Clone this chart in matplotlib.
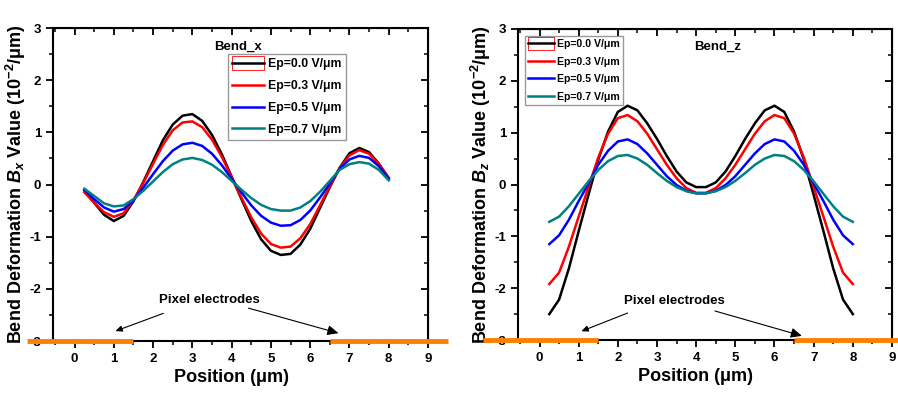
import matplotlib
matplotlib.use("Agg")
import matplotlib.pyplot as plt
from matplotlib.patches import Rectangle
from matplotlib.legend_handler import HandlerTuple, HandlerPatch
from matplotlib.ticker import MultipleLocator

plt.rcParams["font.family"] = ["Liberation Sans", "DejaVu Sans"]
plt.rcParams["font.weight"] = "bold"
plt.rcParams["axes.unicode_minus"] = False
plt.rcParams["mathtext.fontset"] = "custom"
plt.rcParams["mathtext.rm"] = "Liberation Sans:bold"
plt.rcParams["mathtext.it"] = "Liberation Sans:italic"
plt.rcParams["mathtext.bf"] = "Liberation Sans:bold"

# ---- data ----
position = [0.25, 0.5, 0.75, 1.0, 1.25, 1.5, 1.75, 2.0, 2.25, 2.5, 2.75, 3.0,
            3.25, 3.5, 3.75, 4.0, 4.25, 4.5, 4.75, 5.0, 5.25, 5.5, 5.75, 6.0,
            6.25, 6.5, 6.75, 7.0, 7.25, 7.5, 7.75, 8.0]

labels = ["Ep=0.0 V/\u03bcm", "Ep=0.3 V/\u03bcm", "Ep=0.5 V/\u03bcm", "Ep=0.7 V/\u03bcm"]
colors = ["black", "#ff0000", "#0000ff", "#008080"]

# Bend_x
bx_00 = [-0.12, -0.35, -0.58, -0.70, -0.60, -0.32, 0.05, 0.45, 0.85, 1.15, 1.32, 1.35,
         1.22, 0.95, 0.58, 0.15, -0.28, -0.70, -1.05, -1.27, -1.35, -1.33, -1.15, -0.85,
         -0.45, -0.05, 0.32, 0.60, 0.70, 0.62, 0.40, 0.12]
bx_03 = [-0.15, -0.35, -0.53, -0.62, -0.55, -0.30, 0.03, 0.40, 0.76, 1.04, 1.19, 1.21,
         1.10, 0.86, 0.53, 0.14, -0.25, -0.63, -0.94, -1.14, -1.21, -1.19, -1.03, -0.76,
         -0.40, -0.03, 0.31, 0.56, 0.66, 0.59, 0.39, 0.13]
bx_05 = [-0.10, -0.28, -0.44, -0.52, -0.47, -0.30, -0.06, 0.20, 0.45, 0.65, 0.77, 0.80,
         0.74, 0.59, 0.37, 0.11, -0.15, -0.40, -0.60, -0.73, -0.79, -0.78, -0.68, -0.50,
         -0.25, 0.02, 0.30, 0.48, 0.55, 0.51, 0.35, 0.11]
bx_07 = [-0.08, -0.22, -0.36, -0.42, -0.40, -0.28, -0.12, 0.06, 0.24, 0.39, 0.48, 0.51,
         0.47, 0.38, 0.24, 0.07, -0.10, -0.26, -0.39, -0.47, -0.50, -0.50, -0.44, -0.32,
         -0.14, 0.07, 0.28, 0.39, 0.43, 0.40, 0.28, 0.08]

# Bend_z
bz_00 = [-2.50, -2.22, -1.62, -0.90, -0.20, 0.48, 1.02, 1.40, 1.52, 1.43, 1.18, 0.88,
         0.55, 0.25, 0.04, -0.05, -0.05, 0.04, 0.25, 0.55, 0.88, 1.18, 1.43, 1.52,
         1.40, 1.02, 0.48, -0.20, -0.90, -1.62, -2.22, -2.50]
bz_03 = [-1.92, -1.70, -1.20, -0.62, -0.05, 0.52, 0.98, 1.28, 1.34, 1.22, 0.98, 0.68,
         0.38, 0.12, -0.07, -0.16, -0.16, -0.07, 0.12, 0.38, 0.68, 0.98, 1.22, 1.34,
         1.28, 0.98, 0.52, -0.05, -0.62, -1.20, -1.70, -1.92]
bz_05 = [-1.15, -0.98, -0.68, -0.32, 0.02, 0.38, 0.65, 0.83, 0.87, 0.78, 0.60, 0.38,
         0.16, -0.01, -0.12, -0.17, -0.17, -0.12, -0.01, 0.16, 0.38, 0.60, 0.78, 0.87,
         0.83, 0.65, 0.38, 0.02, -0.32, -0.68, -0.98, -1.15]
bz_07 = [-0.72, -0.62, -0.42, -0.18, 0.06, 0.28, 0.45, 0.55, 0.57, 0.50, 0.38, 0.22,
         0.07, -0.05, -0.13, -0.17, -0.17, -0.13, -0.05, 0.07, 0.22, 0.38, 0.50, 0.57,
         0.55, 0.45, 0.28, 0.06, -0.18, -0.42, -0.62, -0.72]

# electrode segments (x ranges at y=-3)
electrodes_x = [(-1.2, 1.5), (6.5, 9.5)]
electrodes_z = [(-1.45, 1.5), (6.5, 9.4)]


def style_axes(ax, xmin):
    ax.set_xlim(xmin, 9)
    ax.set_ylim(-3, 3)
    ax.xaxis.set_major_locator(MultipleLocator(1))
    ax.xaxis.set_minor_locator(MultipleLocator(0.5))
    ax.yaxis.set_major_locator(MultipleLocator(1))
    ax.yaxis.set_minor_locator(MultipleLocator(0.5))
    ax.tick_params(which="major", direction="out", length=5, width=1.3, labelsize=9.5)
    ax.tick_params(which="minor", direction="out", length=3, width=1.1)
    for s in ax.spines.values():
        s.set_linewidth(1.5)
    for t in ax.get_xticklabels() + ax.get_yticklabels():
        t.set_fontweight("bold")
    # mirrored ticks pointing inwards on top/right
    top = ax.secondary_xaxis("top")
    top.xaxis.set_major_locator(MultipleLocator(1))
    top.xaxis.set_minor_locator(MultipleLocator(0.5))
    top.tick_params(which="major", direction="in", length=5, width=1.3, labeltop=False)
    top.tick_params(which="minor", direction="in", length=3, width=1.1)
    right = ax.secondary_yaxis("right")
    right.yaxis.set_major_locator(MultipleLocator(1))
    right.yaxis.set_minor_locator(MultipleLocator(0.5))
    right.tick_params(which="major", direction="in", length=5, width=1.3, labelright=False)
    right.tick_params(which="minor", direction="in", length=3, width=1.1)
    ax.set_xlabel("Position (\u03bcm)", fontsize=13, fontweight="bold", labelpad=3)
    ax.xaxis.label.set_x(0.475)


def draw_panel(ax, series, electrodes, arrows, text_xy, title_xy, title):
    handles = []
    for ys, c in zip(series, colors):
        ln, = ax.plot(position, ys, color=c, lw=1.8, zorder=3)
        handles.append(ln)
    for x0, x1 in electrodes:
        ax.plot([x0, x1], [-3, -3], color="#ff8000", lw=3.5, solid_capstyle="butt",
                clip_on=False, zorder=6)
    ax.text(text_xy[0], text_xy[1], "Pixel electrodes", ha="center", va="center",
            fontsize=9.5, fontweight="bold")
    for (sx, sy), (ex, ey), hw in arrows:
        ax.annotate("", xy=(ex, ey), xytext=(sx, sy),
                    arrowprops=dict(arrowstyle="-|>,head_width=%s,head_length=%s" % (hw, hw * 2.2),
                                    color="black", lw=0.8, shrinkA=0, shrinkB=0))
    ax.text(title_xy[0], title_xy[1], title, ha="center", va="center",
            fontsize=9.5, fontweight="bold")
    return handles


fig = plt.figure(figsize=(8.98, 3.95), dpi=100)
ax1 = fig.add_axes([0.059, 0.1367, 0.4176, 0.7923])
ax2 = fig.add_axes([0.5768, 0.1392, 0.4165, 0.7874])

h1 = draw_panel(ax1, [bx_00, bx_03, bx_05, bx_07], electrodes_x,
                [((2.26, -2.47), (1.04, -2.81), 0.18), ((4.43, -2.37), (6.72, -2.85), 0.3)],
                (3.43, -2.22), (4.15, 2.65), "Bend_x")
h2 = draw_panel(ax2, [bz_00, bz_03, bz_05, bz_07], electrodes_z,
                [((2.25, -2.48), (1.07, -2.83), 0.18), ((4.48, -2.44), (6.7, -2.92), 0.3)],
                (3.45, -2.24), (4.55, 2.65), "Bend_z")

style_axes(ax1, -0.55)
style_axes(ax2, -0.55)

ax1.set_ylabel("Bend Deformation $B_x$ Value (10$^{-2}$/\u03bcm)", fontsize=13,
               fontweight="bold", labelpad=1)
ax2.set_ylabel("Bend Deformation $B_z$ Value (10$^{-2}$/\u03bcm)", fontsize=13,
               fontweight="bold", labelpad=1)


def legend_handles(lines):
    # Origin leaves a hollow red box behind the first legend entry
    box = Rectangle((0, 0), 1, 1, facecolor="none", edgecolor="#ff0000", lw=0.6)
    return [(box, lines[0])] + lines[1:]


def tall_box(legend, orig_handle, xdescent, ydescent, width, height, fontsize):
    return Rectangle((-xdescent, -ydescent - 0.35 * height), width, 1.7 * height)


hmap = {tuple: HandlerTuple(ndivide=1), Rectangle: HandlerPatch(patch_func=tall_box)}

leg1 = ax1.legend(legend_handles(h1), labels, loc="upper left",
                  bbox_to_anchor=(0.46, 0.925), frameon=True, fancybox=False,
                  edgecolor="#808080", handlelength=2.6, handletextpad=0.35,
                  borderpad=0.35, borderaxespad=0.2, labelspacing=0.8,
                  handler_map=hmap, prop={"weight": "bold", "size": 8.8})
leg1.get_frame().set_linewidth(1.0)

leg2 = ax2.legend(legend_handles(h2), labels, loc="upper left",
                  bbox_to_anchor=(0.012, 0.985), frameon=True, fancybox=False,
                  edgecolor="#808080", handlelength=2.5, handletextpad=0.3,
                  borderpad=0.3, borderaxespad=0.2, labelspacing=0.72,
                  handler_map=hmap, prop={"weight": "bold", "size": 7.6})
leg2.get_frame().set_linewidth(1.0)

fig.savefig("out.png", dpi=100)
